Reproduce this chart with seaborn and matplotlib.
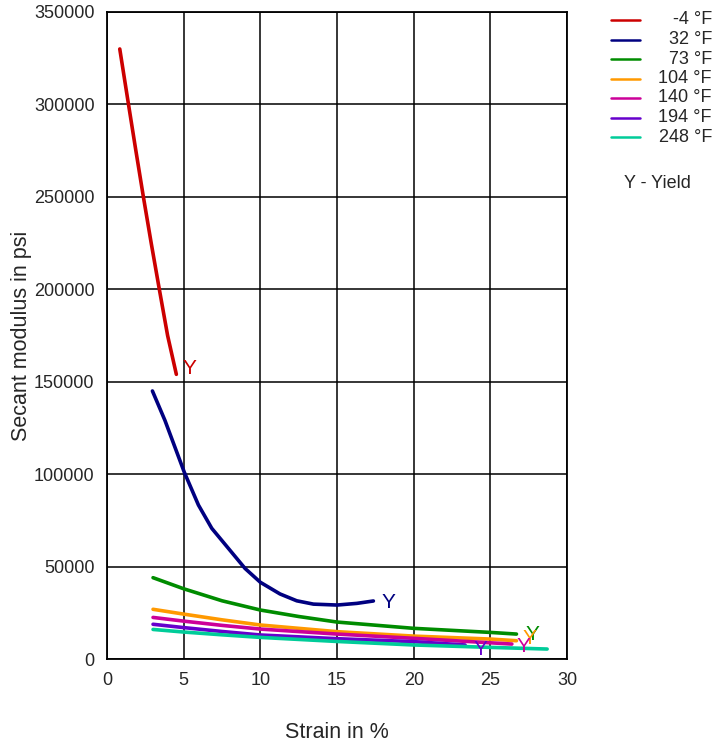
import numpy as np
import pandas as pd
import seaborn as sns
from matplotlib import pyplot as plt
from matplotlib.lines import Line2D

# ---------- DATA ----------
temps = ['-4 °F', '32 °F', '73 °F', '104 °F', '140 °F', '194 °F', '248 °F']
colors = ['#cc0000', '#000080', '#008c00', '#ff9900', '#cc0099', '#6600cc', '#00cc99']

strain_m4 = [0.83, 1.40, 1.88, 2.37, 2.88, 3.41, 3.95, 4.52]
modulus_m4 = [330000, 300000, 275000, 250000, 225000, 200000, 175000, 154000]

strain_32 = [2.96, 3.78, 5.04, 5.96, 6.83, 7.91, 9.0, 10.0, 11.28, 12.37, 13.46, 15.0, 16.29, 17.37]
modulus_32 = [145000, 129000, 101000, 83300, 70700, 59900, 49000, 41500, 35200, 31500, 29700, 29200, 30100, 31400]

strain_73 = [3.0, 5.0, 7.5, 10.0, 12.5, 15.0, 20.0, 25.0, 26.7]
modulus_73 = [44000, 38000, 31500, 26500, 23000, 20000, 16600, 14400, 13500]

strain_104 = [3.0, 5.0, 7.5, 10.0, 15.0, 20.0, 25.0, 26.7]
modulus_104 = [26900, 24300, 21200, 18400, 14800, 12400, 10800, 9900]

strain_140 = [3.0, 5.0, 7.5, 10.0, 15.0, 20.0, 26.4]
modulus_140 = [22500, 20500, 18200, 16200, 13500, 11200, 8100]

strain_194 = [3.0, 5.0, 7.5, 10.0, 15.0, 20.0, 23.35]
modulus_194 = [18800, 17000, 14900, 13000, 11000, 9400, 7600]

strain_248 = [3.0, 5.0, 7.5, 10.0, 15.0, 20.0, 25.0, 28.7]
modulus_248 = [16000, 14600, 13100, 11700, 9500, 7600, 6300, 5400]

# "Y" (yield) label positions: (strain, modulus)
yield_x = [4.9, 17.9, 27.3, 27.1, 26.7, 23.9, None]
yield_y = [157000, 30500, 13500, 11000, 7000, 5200, None]

series = [
    (strain_m4, modulus_m4), (strain_32, modulus_32), (strain_73, modulus_73),
    (strain_104, modulus_104), (strain_140, modulus_140), (strain_194, modulus_194),
    (strain_248, modulus_248),
]

frames = []
for t, (xs, ys) in zip(temps, series):
    frames.append(pd.DataFrame({'strain': xs, 'modulus': ys, 'temp': t}))
df = pd.concat(frames, ignore_index=True)

# ---------- PLOT ----------
sns.set_style('white')
plt.rcParams['font.family'] = ['Liberation Sans', 'DejaVu Sans']

fig = plt.figure(figsize=(7.15, 7.45), dpi=100)
ax = fig.add_axes([0.1497, 0.1154, 0.6434, 0.8685])

sns.lineplot(data=df, x='strain', y='modulus', hue='temp', hue_order=temps,
             palette=colors, linewidth=2.6, sort=False, estimator=None,
             legend=False, ax=ax)
for ln in ax.get_lines():
    ln.set_solid_joinstyle('round')

for yx, yy, c in zip(yield_x, yield_y, colors):
    if yx is not None:
        ax.text(yx, yy, 'Y', color=c, fontsize=15, ha='left', va='center')

ax.set_xlim(0, 30)
ax.set_ylim(0, 350000)
ax.set_xticks(np.arange(0, 31, 5))
ax.set_yticks(np.arange(0, 350001, 50000))
ax.grid(True, color='black', linewidth=1.1)
for s in ax.spines.values():
    s.set_color('black')
    s.set_linewidth(1.3)
ax.tick_params(axis='both', labelsize=13, length=3, color='black', pad=6)
ax.set_xlabel('Strain in %', fontsize=15.5)
ax.set_ylabel('Secant modulus in psi', fontsize=15.5)
ax.xaxis.set_label_coords(0.5, -0.097)
ax.yaxis.set_label_coords(-0.163, 0.5)

# legend drawn by hand (labels right aligned)
for i, (t, c) in enumerate(zip(temps, colors)):
    yf = 1 - (20 + i * 19.5) / 745
    fig.add_artist(Line2D([611 / 715, 640 / 715], [yf, yf], color=c, linewidth=1.8,
                          transform=fig.transFigure))
    fig.text(712 / 715, yf, t, fontsize=13, ha='right', va='center')
fig.text(657 / 715, 1 - 184 / 745, 'Y - Yield', fontsize=13, ha='center', va='center')

fig.savefig('out.png', dpi=100)
